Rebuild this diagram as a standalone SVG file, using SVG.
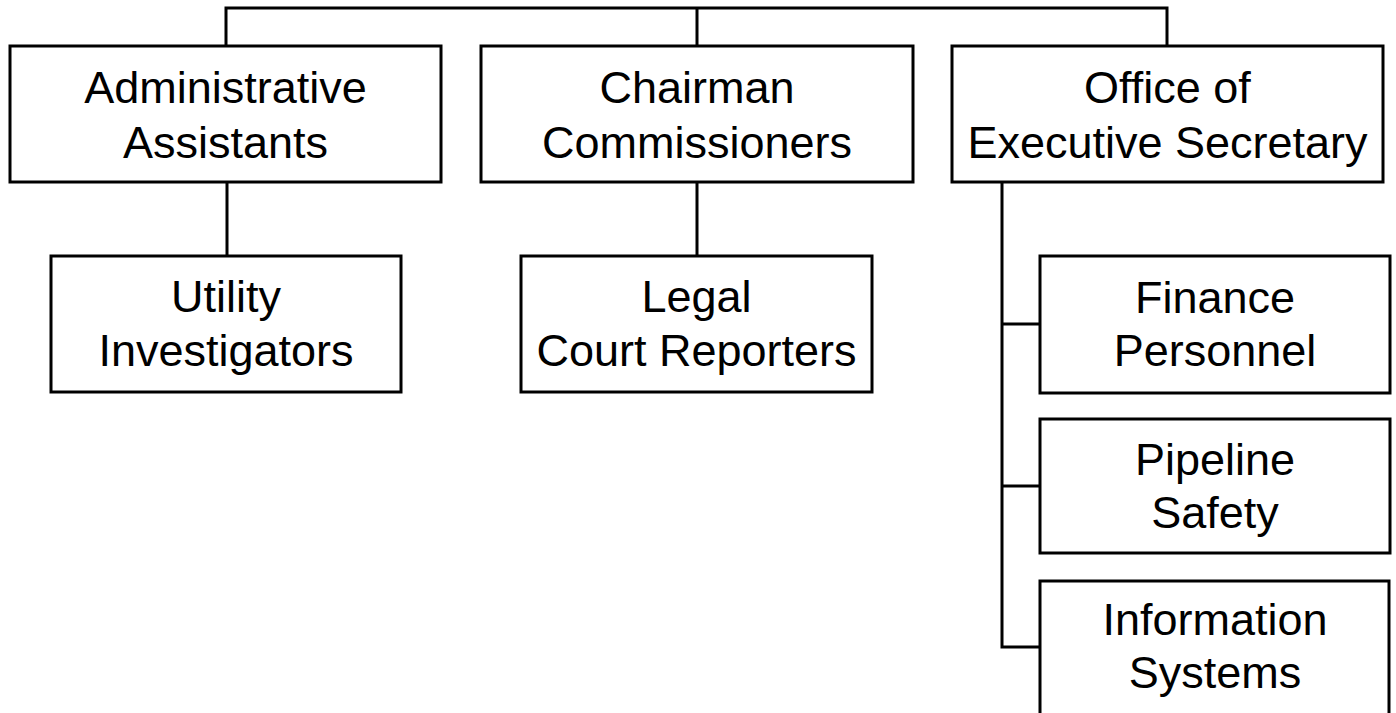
<svg xmlns="http://www.w3.org/2000/svg" width="1396" height="713" viewBox="0 0 1396 713">
<style>
.box{fill:#fff;stroke:#000;stroke-width:3}
.ln{fill:none;stroke:#000;stroke-width:3}
text{font-family:"Liberation Sans",Arial,sans-serif;font-size:45px;fill:#000;text-anchor:middle}
</style>
<rect width="1396" height="713" fill="#fff"/>
<g id="connectors">
<path class="ln" d="M226,46V8H1167V46M697,8V46"/>
<path class="ln" d="M227,182V256M697,182V256"/>
<path class="ln" d="M1002,182V647H1040M1002,324H1040M1002,486H1040"/>
</g>
<g id="admin"><rect class="box" x="10" y="46" width="431" height="136"/><text x="225.5" y="103">Administrative</text><text x="225.5" y="158">Assistants</text></g>
<g id="chairman"><rect class="box" x="481" y="46" width="432" height="136"/><text x="697" y="103">Chairman</text><text x="697" y="158">Commissioners</text></g>
<g id="office"><rect class="box" x="952" y="46" width="431" height="136"/><text x="1167.5" y="103">Office of</text><text x="1167.5" y="158">Executive Secretary</text></g>
<g id="utility"><rect class="box" x="51" y="256" width="350" height="136"/><text x="226" y="312">Utility</text><text x="226" y="366">Investigators</text></g>
<g id="legal"><rect class="box" x="521" y="256" width="351" height="136"/><text x="696.5" y="312">Legal</text><text x="696.5" y="366">Court Reporters</text></g>
<g id="finance"><rect class="box" x="1040" y="256" width="350" height="137"/><text x="1215" y="313">Finance</text><text x="1215" y="366">Personnel</text></g>
<g id="pipeline"><rect class="box" x="1040" y="419" width="350" height="134"/><text x="1215" y="475">Pipeline</text><text x="1215" y="528">Safety</text></g>
<g id="info"><rect class="box" x="1040" y="581" width="349" height="140"/><text x="1215" y="635">Information</text><text x="1215" y="688">Systems</text></g>
</svg>
